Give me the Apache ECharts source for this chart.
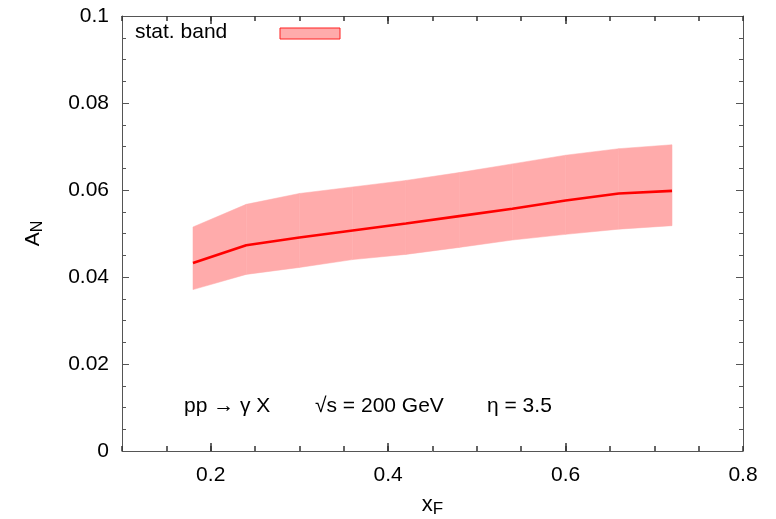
<!DOCTYPE html>
<html>
<head>
<meta charset="utf-8">
<script src="https://cdn.jsdelivr.net/npm/echarts@6/dist/echarts.min.js"></script>
<style>
  html, body { margin: 0; padding: 0; background: #fff; }
  #chart { width: 776px; height: 519px; }
</style>
</head>
<body>
<div id="chart"></div>
<script>
// Single-spin asymmetry A_N for pp -> gamma X vs. x_F, with statistical band
const xF = [0.18, 0.24, 0.30, 0.36, 0.42, 0.48, 0.54, 0.60, 0.66, 0.72];
const central = [0.0432, 0.0473, 0.0491, 0.0507, 0.0523, 0.0540, 0.0557, 0.0576, 0.0592, 0.0598];
const bandLow = [0.0371, 0.0406, 0.0422, 0.0440, 0.0452, 0.0468, 0.0485, 0.0498, 0.0510, 0.0518];
const bandHigh = [0.0515, 0.0567, 0.0592, 0.0607, 0.0622, 0.0640, 0.0660, 0.0680, 0.0695, 0.0704];
const xTickLabels = ['0.2', '0.4', '0.6', '0.8'];
const xMajorTicks = [0.2, 0.4, 0.6];
const yTickLabels = ['0', '0.02', '0.04', '0.06', '0.08', '0.1'];

const FONT = 'Liberation Sans';
const FS = 21;
const AXIS_COLOR = '#555';
const TICK_COLOR = '#333';
const BAND_COLOR = '#ffabab';
const Y_MIN = 0;
const Y_MAX = 0.1;

const chart = echarts.init(document.getElementById('chart'));

const pairs = (ys) => xF.map((x, i) => [x, ys[i]]);
const bandData = xF.map((x, i) => [x, bandLow[i], bandHigh[i]]);

const fmtX = (v) => {
  const s = (Math.round(v * 10) / 10).toString();
  return xTickLabels.includes(s) ? s : '';
};
const fmtY = (v) => {
  const s = (Math.round(v * 100) / 100).toString();
  return yTickLabels.includes(s) ? s : '';
};

// x axes: short ticks every 0.05 (major 0.1 + one minor split)
const xAxisDef = (position, withLabels) => ({
  type: 'value', min: 0.1, max: 0.8, interval: 0.1, position,
  axisLine: { show: true, onZero: false, lineStyle: { color: AXIS_COLOR, width: 1 } },
  axisTick: { show: true, inside: true, length: 5, lineStyle: { color: TICK_COLOR, width: 1.5 } },
  minorTick: { show: true, splitNumber: 2, length: 5, lineStyle: { color: TICK_COLOR, width: 1.5 } },
  splitLine: { show: false },
  axisLabel: withLabels
    ? { show: true, formatter: fmtX, fontFamily: FONT, fontSize: FS, color: '#000', margin: 14 }
    : { show: false }
});

const yAxisDef = (position, withLabels) => ({
  type: 'value', min: Y_MIN, max: Y_MAX, interval: 0.02, position,
  axisLine: { show: true, onZero: false, lineStyle: { color: AXIS_COLOR, width: 1 } },
  axisTick: { show: true, inside: true, length: 7, lineStyle: { color: AXIS_COLOR, width: 1 } },
  minorTick: { show: true, splitNumber: 4, length: 4, lineStyle: { color: AXIS_COLOR, width: 1 } },
  splitLine: { show: false },
  axisLabel: withLabels
    ? { show: true, formatter: fmtY, fontFamily: FONT, fontSize: FS, color: '#000', margin: 13 }
    : { show: false }
});

// Band drawn piecewise: one quad between consecutive x_F points
function renderBand(params, api) {
  const i = params.dataIndex;
  if (i >= xF.length - 1) return null;
  const a0 = api.coord([api.value(0), api.value(1)]);
  const a1 = api.coord([api.value(0), api.value(2)]);
  const b0 = api.coord([xF[i + 1], bandLow[i + 1]]);
  const b1 = api.coord([xF[i + 1], bandHigh[i + 1]]);
  return {
    type: 'polygon',
    shape: { points: [a0, b0, b1, a1] },
    style: { fill: BAND_COLOR, stroke: BAND_COLOR, lineWidth: 0.5 }
  };
}

// Longer tick marks at the labelled x values, on the bottom and top frame
function renderMajorTicks(params, api) {
  const p0 = api.coord([api.value(0), api.value(1)]);
  const p1 = api.coord([api.value(0), api.value(2)]);
  const x = Math.round(p0[0]);
  return {
    type: 'group',
    children: [
      { type: 'line', shape: { x1: x, y1: p0[1], x2: x, y2: p0[1] - 8 }, style: { stroke: TICK_COLOR, lineWidth: 1.5 } },
      { type: 'line', shape: { x1: x, y1: p1[1], x2: x, y2: p1[1] + 8 }, style: { stroke: TICK_COLOR, lineWidth: 1.5 } }
    ]
  };
}

const xMain = xAxisDef('bottom', true);
xMain.name = '{m|x}{s|F}';
xMain.nameLocation = 'middle';
xMain.nameGap = 40;
xMain.nameTextStyle = {
  rich: {
    m: { fontFamily: FONT, fontSize: 22, color: '#000' },
    s: { fontFamily: FONT, fontSize: 17, color: '#000', verticalAlign: 'bottom', padding: [10, 0, 0, 0] }
  }
};

const yMain = yAxisDef('left', true);
yMain.name = '{m|A}{s|N}';
yMain.nameLocation = 'middle';
yMain.nameGap = 76;
yMain.nameRotate = 90;
yMain.nameTextStyle = {
  rich: {
    m: { fontFamily: FONT, fontSize: 21, color: '#000' },
    s: { fontFamily: FONT, fontSize: 16, color: '#000', verticalAlign: 'bottom', padding: [10, 0, 0, 0] }
  }
};

chart.setOption({
  animation: false,
  grid: { left: 122, right: 33, top: 16, bottom: 68, containLabel: false, outerBoundsMode: 'none' },
  xAxis: [xMain, xAxisDef('top', false)],
  yAxis: [yMain, yAxisDef('right', false)],
  legend: { show: false },
  series: [
    {
      name: 'stat. band', type: 'custom', data: bandData,
      encode: { x: 0, y: [1, 2] },
      renderItem: renderBand, silent: true, z: 1
    },
    {
      name: 'central', type: 'line', data: pairs(central),
      symbol: 'none', lineStyle: { color: '#ff0000', width: 2.6 }, z: 3
    },
    {
      name: 'major ticks', type: 'custom',
      data: xMajorTicks.map((v) => [v, Y_MIN, Y_MAX]),
      encode: { x: 0, y: [1, 2] }, clip: false,
      renderItem: renderMajorTicks, silent: true, z: 5
    }
  ],
  graphic: [
    {
      type: 'text', left: 135, top: 22, z: 100,
      style: { text: 'stat. band', fontFamily: FONT, fontSize: FS, fill: '#000' }
    },
    {
      type: 'rect', z: 100, shape: { x: 280, y: 28, width: 60, height: 11 },
      style: { fill: BAND_COLOR, stroke: '#ff2020', lineWidth: 1 }
    },
    {
      type: 'text', left: 184, top: 396, z: 100,
      style: { text: 'pp \u2192 \u03b3 X', fontFamily: FONT, fontSize: FS, fill: '#000' }
    },
    {
      type: 'text', left: 315, top: 396, z: 100,
      style: { text: '\u221as = 200 GeV', fontFamily: FONT, fontSize: FS, fill: '#000' }
    },
    {
      type: 'text', left: 487, top: 396, z: 100,
      style: { text: '\u03b7 = 3.5', fontFamily: FONT, fontSize: FS, fill: '#000' }
    }
  ]
});
</script>
</body>
</html>
